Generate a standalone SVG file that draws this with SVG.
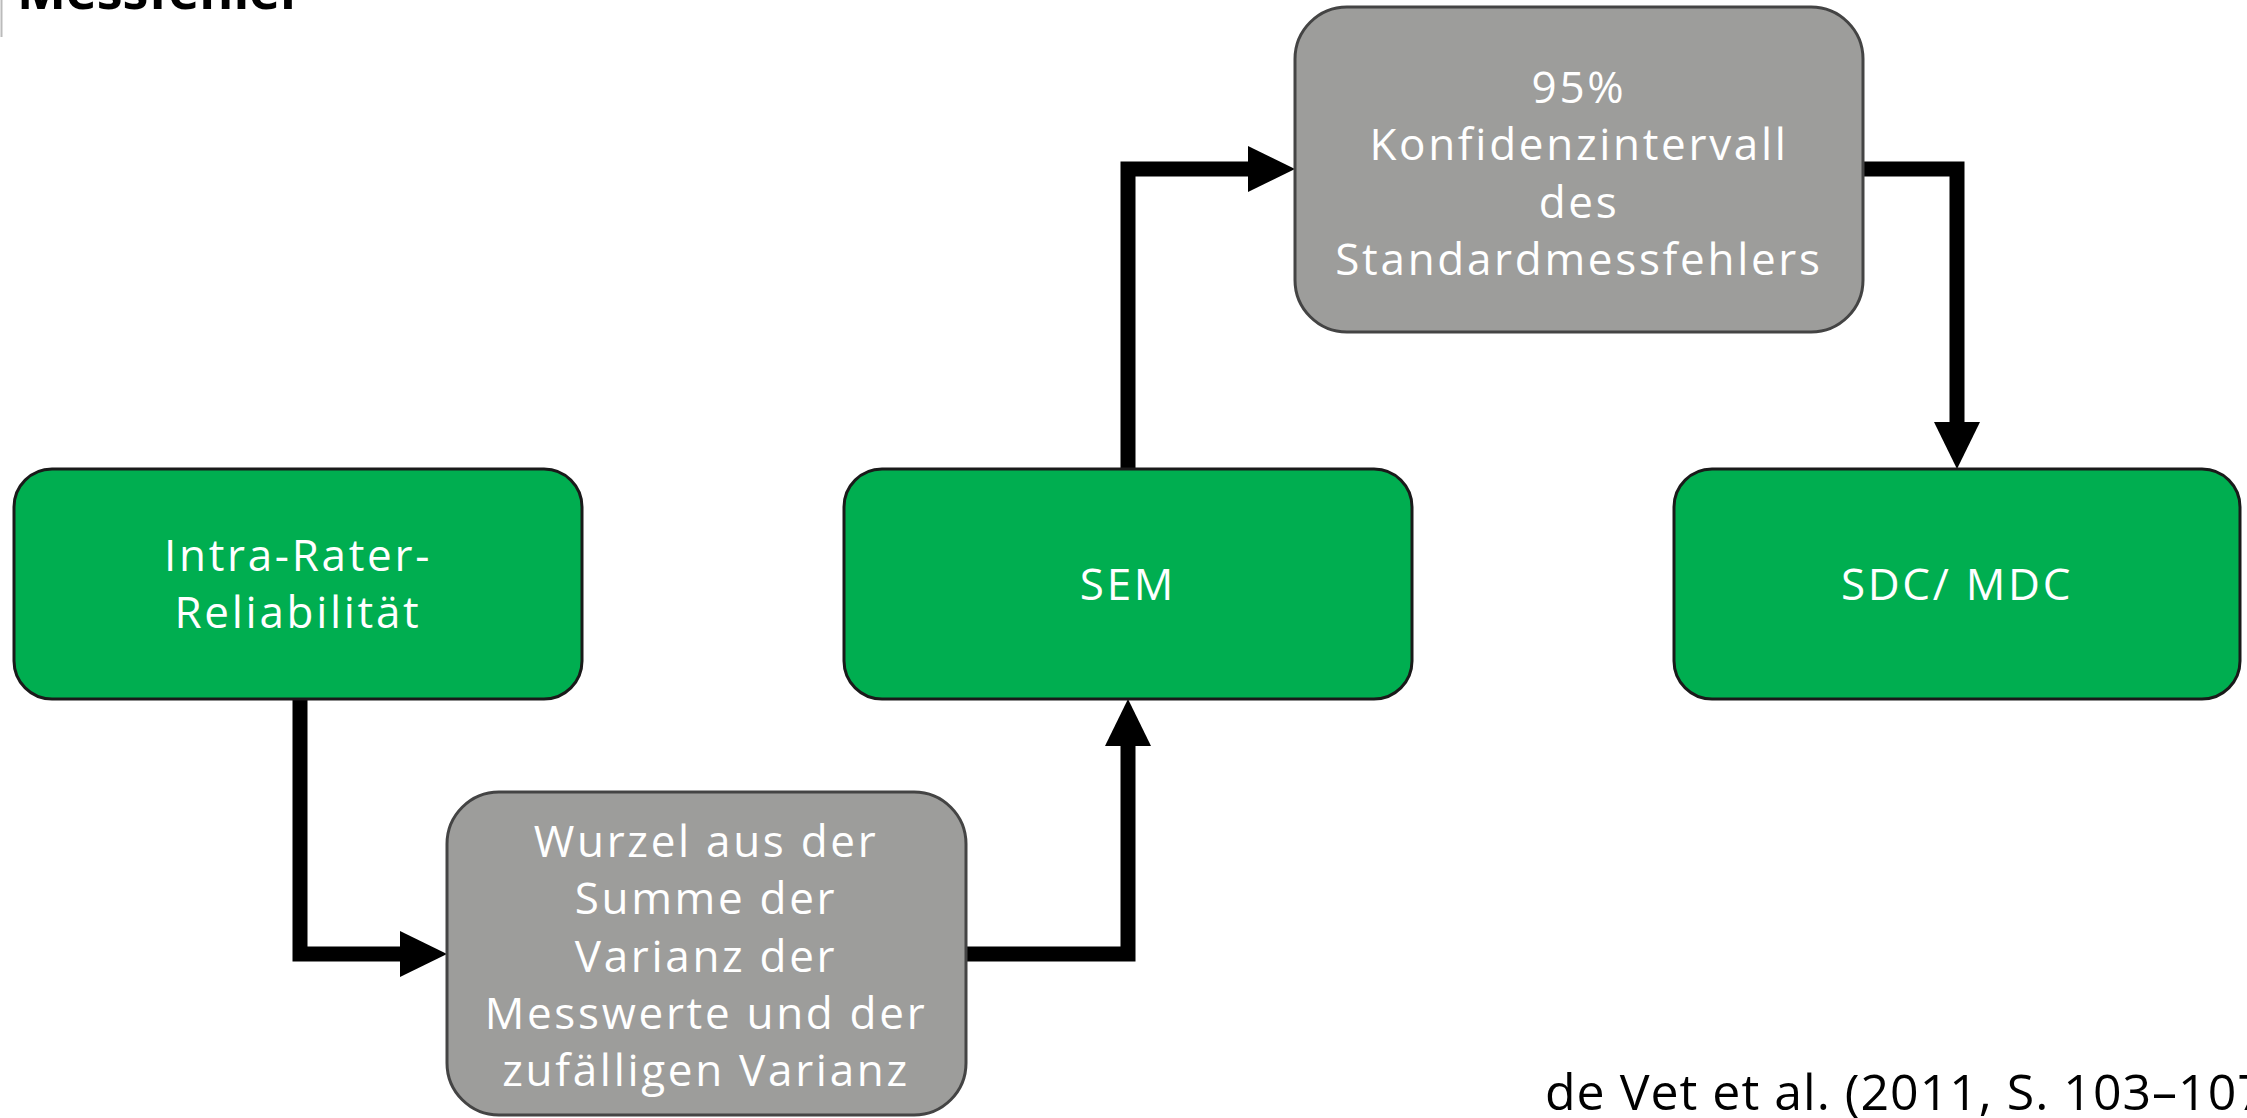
<svg xmlns="http://www.w3.org/2000/svg" width="2247" height="1118" viewBox="0 0 2247 1118">
<defs>
<style>
.green{fill:#00AE50;stroke:#1a1a1a;stroke-width:3}
.gray{fill:#9D9D9B;stroke:#444444;stroke-width:3}
.lbl{font-family:"Open Sans","DejaVu Sans",sans-serif;font-size:44px;fill:#ffffff;text-anchor:middle;letter-spacing:2.7px}
.conn{fill:none;stroke:#000000;stroke-width:15;stroke-linejoin:miter}
</style>
<marker id="arr" viewBox="0 0 47 46" refX="0" refY="23" markerWidth="47" markerHeight="46" markerUnits="userSpaceOnUse" orient="auto">
<path d="M0,0 L47,23 L0,46 Z" fill="#000000"/>
</marker>
</defs>
<rect width="2247" height="1118" fill="#ffffff"/>
<line x1="1.5" y1="0" x2="1.5" y2="37" stroke="#bbbbbb" stroke-width="2"/>
<text x="17" y="9" font-family="'Open Sans','DejaVu Sans',sans-serif" font-size="52" font-weight="bold" fill="#000000">Messfehler</text>

<g id="connectors">
<path class="conn" d="M300,699 V954 H400" marker-end="url(#arr)"/>
<path class="conn" d="M966,954 H1128 V746" marker-end="url(#arr)"/>
<path class="conn" d="M1128,469 V169 H1248" marker-end="url(#arr)"/>
<path class="conn" d="M1863,169 H1957 V422" marker-end="url(#arr)"/>
</g>

<g id="node-intra">
<rect class="green" x="14" y="469" width="568" height="230" rx="38"/>
<text class="lbl" x="298" y="571">Intra-Rater-</text>
<text class="lbl" x="298" y="628">Reliabilität</text>
</g>

<g id="node-sem">
<rect class="green" x="844" y="469" width="568" height="230" rx="38"/>
<text class="lbl" x="1128" y="600">SEM</text>
</g>

<g id="node-sdc">
<rect class="green" x="1674" y="469" width="566" height="230" rx="38"/>
<text class="lbl" x="1957" y="600">SDC/ MDC</text>
</g>

<g id="node-ki">
<rect class="gray" x="1295" y="7" width="568" height="325" rx="52"/>
<text class="lbl" x="1579" y="103">95%</text>
<text class="lbl" x="1579" y="160">Konfidenzintervall</text>
<text class="lbl" x="1579" y="218">des</text>
<text class="lbl" x="1579" y="275">Standardmessfehlers</text>
</g>

<g id="node-wurzel">
<rect class="gray" x="447" y="792" width="519" height="323" rx="52"/>
<text class="lbl" x="706" y="857">Wurzel aus der</text>
<text class="lbl" x="706" y="914">Summe der</text>
<text class="lbl" x="706" y="972">Varianz der</text>
<text class="lbl" x="706" y="1029">Messwerte und der</text>
<text class="lbl" x="706" y="1086">zufälligen Varianz</text>
</g>

<text x="1545" y="1110" font-family="'Open Sans','DejaVu Sans',sans-serif" font-size="50" fill="#000000" letter-spacing="1">de Vet et al. (2011, S. 103–107)</text>
</svg>
